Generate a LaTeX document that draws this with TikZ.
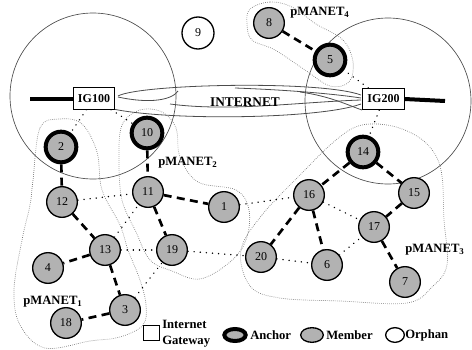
\documentclass[tikz,border=0pt]{standalone}
\usepackage{fontspec}
\setmainfont{Liberation Serif}
\usetikzlibrary{shapes.geometric}

\tikzset{
  member/.style={circle, draw, line width=1pt, fill=black!30, minimum size=23pt, inner sep=0pt, font=\fontsize{9}{9}\selectfont},
  anchornode/.style={member, line width=3pt, minimum size=23pt},
  orphan/.style={member, fill=white},
  gateway/.style={rectangle, draw, line width=0.7pt, fill=white, minimum width=31pt, minimum height=16pt, inner sep=0pt, font=\fontsize{9}{9}\selectfont\bfseries},
  treelink/.style={line width=2pt, dash pattern=on 6pt off 4pt},
  xlink/.style={line width=1.1pt, dash pattern=on 0.1pt off 4.5pt, line cap=round},
  zone/.style={black!55, line width=0.5pt, densely dotted},
  cover/.style={black!70, line width=0.5pt},
  cloud/.style={black!70, line width=0.6pt},
  netlabel/.style={font=\fontsize{9.5}{9.5}\selectfont\bfseries, inner sep=0pt},
  keytext/.style={anchor=west, inner sep=0pt, font=\fontsize{9.5}{12}\selectfont\bfseries}
}

\begin{document}
\begin{tikzpicture}[x=0.75pt,y=0.75pt,yscale=-1,xscale=1]
\useasboundingbox (0,0) rectangle (472,350);

% Coverage circles
\draw [cover] (93,96) circle (83);
\draw [cover] (388,101) circle (83);

% pMANET outlines
\draw [zone] plot [smooth cycle, tension=0.6] coordinates {(33,180) (40,128) (60,119) (82,124) (97,152) (102,190) (120,225) (128,250) (140,280) (146,305) (143,325) (120,337) (90,341) (45,348) (20,325) (14,290) (22,240) (30,205)};
\draw [zone] plot [smooth cycle, tension=0.6] coordinates {(122,125) (140,110) (162,112) (176,128) (180,157) (198,182) (236,190) (249,210) (246,240) (230,262) (200,279) (172,271) (150,260) (136,232) (122,200) (119,160)};
\draw [zone] plot [smooth cycle, tension=0.6] coordinates {(241,250) (262,215) (300,175) (336,140) (362,125) (396,127) (426,143) (441,170) (444,220) (447,265) (432,287) (407,303) (340,301) (280,298) (250,286)};
\draw [zone] plot [smooth cycle, tension=0.6] coordinates {(250,9) (270,2) (292,7) (316,24) (343,40) (353,62) (349,82) (330,86) (305,70) (275,50) (252,40) (247,24)};

% Internet cloud
\draw [cloud] (118,96) .. controls (140,84) and (320,80) .. (361,95);
\draw [cloud] (118,97) .. controls (150,104) and (172,100) .. (178,91);
\draw [cloud] (113,109) .. controls (170,121) and (320,119) .. (361,104);
\draw [cloud] (170,104) .. controls (230,112) and (300,102) .. (361,100);
\draw [cloud] (235,88) .. controls (290,90) and (335,94) .. (361,98);
\draw [cloud] (300,92) .. controls (330,96) and (350,106) .. (362,110);

% Gateways
\node (ig100) [gateway] at (94,98.5) {IG100};
\node (ig200) [gateway] at (383.5,99) {IG200};
\coordinate (wan1) at (30,98.5);
\coordinate (wan2) at (445,101);
\draw [line width=3pt] (ig100.west) -- (wan1);
\draw [line width=3pt] (ig200.east) -- (wan2);
\node (inet) [netlabel, font=\fontsize{10}{10}\selectfont\bfseries] at (245,102) {INTERNET};

% Mobile nodes
\node (n9) [orphan, minimum size=24pt] at (198,33) {9};
\node (n8) [member] at (269,23) {8};
\node (n5) [anchornode] at (330,60) {5};
\node (n10) [anchornode] at (147,133) {10};
\node (n2) [anchornode] at (61,147) {2};
\node (n14) [anchornode] at (363,152) {14};
\node (n12) [member] at (62,202) {12};
\node (n11) [member] at (148,192) {11};
\node (n1) [member] at (224,207) {1};
\node (n13) [member] at (105,250) {13};
\node (n19) [member] at (172,250) {19};
\node (n4) [member] at (48,268) {4};
\node (n3) [member] at (125,310) {3};
\node (n18) [member] at (66,323) {18};
\node (n16) [member] at (309,195) {16};
\node (n15) [member] at (414,193) {15};
\node (n17) [member] at (374,227) {17};
\node (n20) [member] at (261,257) {20};
\node (n6) [member] at (327,265) {6};
\node (n7) [member] at (405,282) {7};

% pMANET labels
\node (lab1) [netlabel, anchor=west] at (23,302) {pMANET\textsubscript{1}};
\node (lab2) [netlabel, anchor=west] at (158,163) {pMANET\textsubscript{2}};
\node (lab3) [netlabel, anchor=west] at (405,250) {pMANET\textsubscript{3}};
\node (lab4) [netlabel, anchor=west] at (290,13) {pMANET\textsubscript{4}};

% Links inside a pMANET
\draw [treelink] (n8) -- (n5);
\draw [treelink] (n2) -- (n12);
\draw [treelink] (n12) -- (n13);
\draw [treelink] (n13) -- (n4);
\draw [treelink] (n13) -- (n3);
\draw [treelink] (n3) -- (n18);
\draw [treelink] (n10) -- (n11);
\draw [treelink] (n11) -- (n1);
\draw [treelink] (n11) -- (n19);
\draw [treelink] (n14) -- (n16);
\draw [treelink] (n14) -- (n15);
\draw [treelink] (n16) -- (n20);
\draw [treelink] (n16) -- (n6);
\draw [treelink] (n15) -- (n17);
\draw [treelink] (n17) -- (n7);

% Links to gateways and between pMANETs
\draw [xlink] (ig100) -- (n2);
\draw [xlink] (ig100) -- (n10);
\draw [xlink] (ig200) -- (n5);
\draw [xlink] (ig200) -- (n14);
\draw [xlink] (n12) -- (n11);
\draw [xlink] (n13) -- (n11);
\draw [xlink] (n13) -- (n19);
\draw [xlink] (n3) -- (n19);
\draw [xlink] (n19) -- (n20);
\draw [xlink] (n1) -- (n16);
\draw [xlink] (n16) -- (n17);
\draw [xlink] (n20) -- (n6);
\draw [xlink] (n6) -- (n17);

% Legend
\node (keygw) [draw, line width=0.6pt, minimum width=12pt, minimum height=11pt, inner sep=0pt] at (151,333) {};
\node (keygwtxt) [keytext, align=left] at (162,334) {Internet\\Gateway};
\node (keyanc) [ellipse, draw, line width=3pt, fill=black!30, minimum width=16pt, minimum height=9pt, inner sep=0pt] at (235,335) {};
\node (keyanctxt) [keytext] at (250,335) {Anchor};
\node (keymem) [ellipse, draw, line width=1pt, fill=black!30, minimum width=17pt, minimum height=11pt, inner sep=0pt] at (312,335) {};
\node (keymemtxt) [keytext] at (326,335) {Member};
\node (keyorp) [ellipse, draw, line width=1pt, minimum width=14pt, minimum height=11pt, inner sep=0pt] at (395,335) {};
\node (keyorptxt) [keytext] at (405,335) {Orphan};

\end{tikzpicture}
\end{document}
